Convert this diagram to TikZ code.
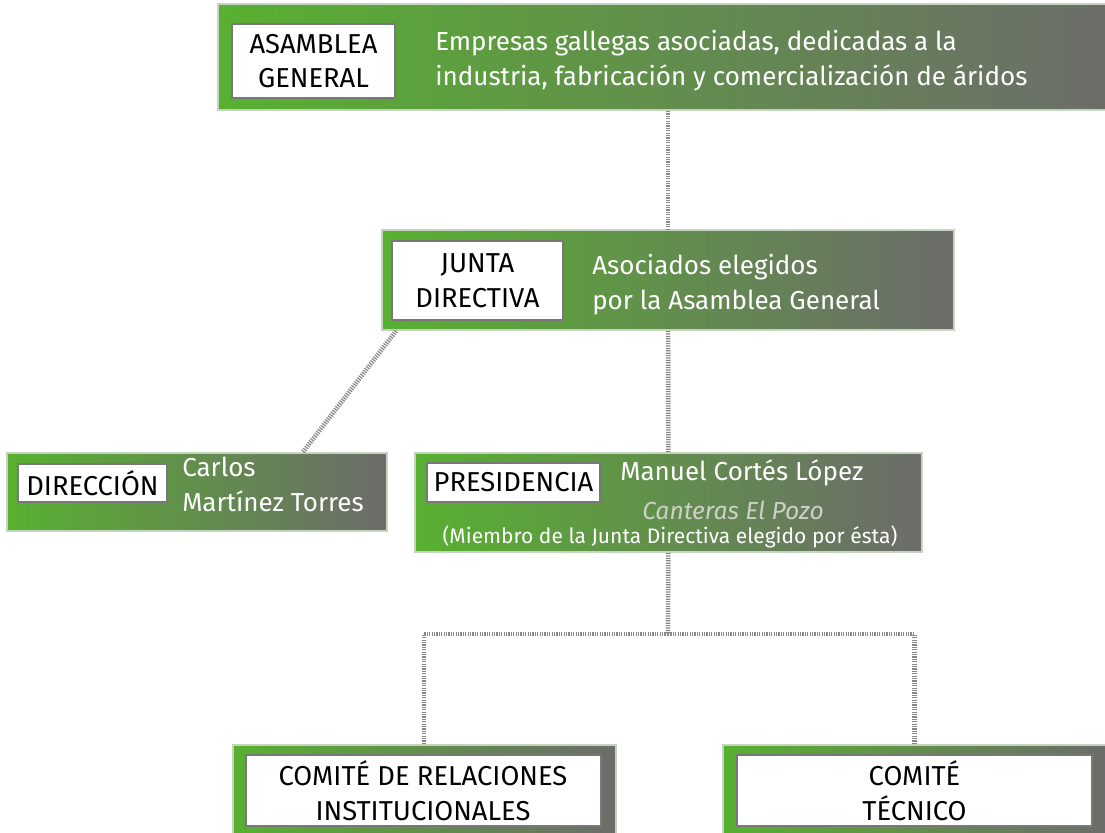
\documentclass[tikz,border=0pt]{standalone}
\usepackage{fontspec}
\setmainfont{Fira Sans}
\usetikzlibrary{positioning}
\definecolor{boxgreen}{RGB}{88, 176, 48}
\definecolor{boxmid}{RGB}{130, 166, 110}
\definecolor{boxgray}{RGB}{108, 108, 106}
\definecolor{boxedge}{RGB}{196, 212, 190}
\definecolor{tagedge}{RGB}{120, 120, 120}
\definecolor{linkgray}{RGB}{135, 135, 135}
\definecolor{canterasgray}{RGB}{205, 208, 200}

\begin{document}
\begin{tikzpicture}[
            x=0.75pt, y=-0.75pt,
            box/.style={
                rectangle,
                draw=boxedge,
                line width=1.5pt,
                left color=boxgreen,
                middle color=boxmid,
                right color=boxgray,
                inner sep=0pt
            },
            tag/.style={
                rectangle,
                draw=tagedge,
                line width=1.5pt,
                fill=white,
                inner sep=0pt,
                align=center,
                font=\fontsize{20.5}{26}\selectfont
            },
            info/.style={
                text=white,
                align=left,
                inner sep=0pt,
                anchor=west,
                font=\fontsize{19.5}{26.25}\selectfont
            },
            link/.style={draw=linkgray, line width=3.5pt, dash pattern=on 0.9pt off 0.9pt}
        ]
            \useasboundingbox (0,0) rectangle (1105,832);
            \clip (0,0) rectangle (1105,832);

            % Nodes
            \node[box, minimum width=675pt, minimum height=79.5pt] (asamblea) at (668,57) {};
            \node[tag, minimum width=122.25pt, minimum height=55.5pt] (asambleaT) at (313.5,61) {ASAMBLEA\\GENERAL};
            \node[info] (asambleaI) at (435,61) {Empresas gallegas asociadas, dedicadas a la\\industria, fabricación y comercialización de áridos};

            \node[box, minimum width=429pt, minimum height=75pt] (junta) at (668,280) {};
            \node[tag, minimum width=128.25pt, minimum height=59.25pt] (juntaT) at (477.5,280.5) {JUNTA\\DIRECTIVA};
            \node[info] (juntaI) at (592,285) {Asociados elegidos\\por la Asamblea General};

            \node[box, minimum width=285pt, minimum height=58.5pt] (direccion) at (197,492) {};
            \node[tag, minimum width=111.75pt, minimum height=28.5pt] (direccionT) at (92.5,483) {DIRECCIÓN};
            \node[info] (direccionI) at (182,484) {Carlos\\Martínez Torres};

            \node[box, minimum width=380.25pt, minimum height=74.25pt] (presidencia) at (668.5,502.5) {};
            \node[tag, minimum width=129.75pt, minimum height=29.25pt] (presidenciaT) at (513.5,482.5) {PRESIDENCIA};
            \node[info] (presidenciaI) at (620,473) {Manuel Cortés López};
            \node[info, text=canterasgray, font=\fontsize{18.5}{24}\selectfont\itshape] (presidenciaE) at (642,510) {Canteras El Pozo};
            \node[info, anchor=center, font=\fontsize{15.75}{19}\selectfont] (presidenciaN) at (670,537) {(Miembro de la Junta Directiva elegido por ésta)};

            \node[box, minimum width=287.25pt, minimum height=71.25pt] (relaciones) at (424,792.5) {};
            \node[tag, minimum width=266.25pt, minimum height=53.25pt] (relacionesT) at (423,790.5) {COMITÉ DE RELACIONES\\INSTITUCIONALES};

            \node[box, minimum width=287.25pt, minimum height=71.25pt] (tecnico) at (914.5,792.5) {};
            \node[tag, minimum width=266.25pt, minimum height=53.25pt] (tecnicoT) at (914.5,790.5) {COMITÉ\\TÉCNICO};

            % Connectors
            \coordinate (fork) at (668,634);
            \draw[link] (asamblea) -- (junta);
            \draw[link] (junta) -- (presidencia);
            \draw[link] ([xshift=11.25pt]junta.south west) -- ([xshift=79.5pt]direccion.north);
            \draw[link] (presidencia) -- (fork);
            \draw[link] (fork) -| (relaciones.north);
            \draw[link] (fork) -| (tecnico.north);
        \end{tikzpicture}
\end{document}
